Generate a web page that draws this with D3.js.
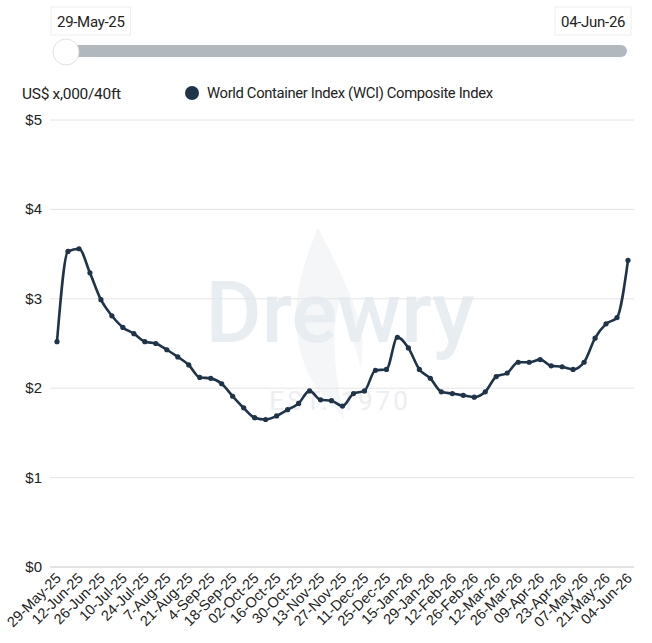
<!DOCTYPE html>
<html>
<head>
<meta charset="utf-8">
<script src="https://cdn.jsdelivr.net/npm/d3@7"></script>
<style>
  body { margin: 0; background: #fff; font-family: Roboto, "Liberation Sans", sans-serif; }
</style>
</head>
<body>
<script>
// weekly WCI composite, US$ x,000 per 40ft
const dates = ["29-May-25","05-Jun-25","12-Jun-25","19-Jun-25","26-Jun-25","03-Jul-25","10-Jul-25","17-Jul-25","24-Jul-25","31-Jul-25",
  "7-Aug-25","14-Aug-25","21-Aug-25","28-Aug-25","4-Sep-25","11-Sep-25","18-Sep-25","25-Sep-25","02-Oct-25","09-Oct-25",
  "16-Oct-25","23-Oct-25","30-Oct-25","06-Nov-25","13-Nov-25","20-Nov-25","27-Nov-25","04-Dec-25","11-Dec-25","18-Dec-25",
  "25-Dec-25","08-Jan-26","15-Jan-26","22-Jan-26","29-Jan-26","05-Feb-26","12-Feb-26","19-Feb-26","26-Feb-26","05-Mar-26",
  "12-Mar-26","19-Mar-26","26-Mar-26","02-Apr-26","09-Apr-26","16-Apr-26","23-Apr-26","30-Apr-26","07-May-26","14-May-26",
  "21-May-26","28-May-26","04-Jun-26"];
const values = [2.52,3.53,3.56,3.29,2.99,2.81,2.68,2.61,2.52,2.50,
  2.43,2.35,2.26,2.12,2.11,2.05,1.91,1.78,1.67,1.65,
  1.69,1.76,1.83,1.97,1.87,1.86,1.80,1.94,1.97,2.20,
  2.21,2.57,2.45,2.21,2.11,1.96,1.94,1.92,1.90,1.96,
  2.13,2.17,2.29,2.29,2.32,2.25,2.24,2.21,2.29,2.56,
  2.72,2.79,3.43];
const yTicks = [0,1,2,3,4,5];
const seriesName = "World Container Index (WCI) Composite Index";
const lineColor = "#1f3349";

const width = 652, height = 643;
const margin = {top: 120, right: 18, bottom: 76, left: 50};

const svg = d3.select("body").append("svg")
    .attr("width", width)
    .attr("height", height);

// range slider on top
const slider = svg.append("g");
slider.append("rect")
    .attr("x", 56).attr("y", 45).attr("width", 571).attr("height", 12)
    .attr("rx", 6).style("fill", "#b1b8be");
slider.append("circle")
    .attr("cx", 66).attr("cy", 52).attr("r", 13)
    .style("fill", "#fff").style("stroke", "#e2e2e2").style("stroke-width", 1);

function dateBox(x, txt) {
  const g = slider.append("g").attr("transform", "translate(" + x + ",8)");
  const t = g.append("text").attr("x", 0).attr("y", 19)
      .style("font-size", "15px").style("fill", "#222").style("letter-spacing", "-0.3px").text(txt);
  const w = t.node().getComputedTextLength();
  g.insert("rect", "text").attr("x", -6).attr("y", -1).attr("width", w + 12).attr("height", 28)
      .style("fill", "#fff").style("stroke", "#eeeeee");
}
dateBox(57, dates[0]);
dateBox(561, dates[dates.length - 1]);

// unit label + legend
svg.append("text").attr("x", 22).attr("y", 99)
    .style("font-size", "15.5px").style("fill", "#222").style("letter-spacing", "-0.3px")
    .text("US$ x,000/40ft");
svg.append("circle").attr("cx", 192).attr("cy", 93).attr("r", 7).style("fill", lineColor);
svg.append("text").attr("x", 207).attr("y", 98)
    .style("font-size", "14.8px").style("fill", "#222").style("letter-spacing", "-0.35px")
    .text(seriesName);

const x = d3.scalePoint()
    .domain(dates)
    .range([57, 628]);

const y = d3.scaleLinear()
    .domain([0, 5])
    .range([height - margin.bottom, margin.top]);

// watermark
const wm = svg.append("g").style("pointer-events", "none");
wm.append("path")
    .attr("d", "M318,228 C300,270 290,310 300,350 C310,390 330,400 345,420 C335,380 330,330 340,300 C345,330 360,350 360,370 C370,330 350,290 318,228 Z")
    .style("fill", "#f5f6f8");
wm.append("text").attr("x", 340).attr("y", 342).attr("text-anchor", "middle")
    .style("font-size", "86px").style("font-weight", "500").style("fill", "#e8edf2")
    .text("Drewry");
wm.append("text").attr("x", 340).attr("y", 410).attr("text-anchor", "middle")
    .style("font-size", "26px").style("letter-spacing", "3px").style("fill", "#eceef1")
    .text("EST. 1970");

// grid + y labels
const yAxis = svg.append("g").attr("class", "y-axis");
yAxis.selectAll("line")
    .data(yTicks).enter().append("line")
    .attr("x1", margin.left).attr("x2", 634)
    .attr("y1", d => y(d)).attr("y2", d => y(d))
    .style("stroke", d => d === 0 ? "#c8c8c8" : "#e4e4e4")
    .style("stroke-width", 1);
yAxis.selectAll("text")
    .data(yTicks).enter().append("text")
    .attr("x", 42).attr("y", d => y(d) + 5)
    .attr("text-anchor", "end")
    .style("font-family", "'Liberation Sans', Arial, sans-serif")
    .style("font-size", "15px").style("fill", "#222")
    .text(d => "$" + d);

// x labels, every second week
const xLabels = dates.filter((d, i) => i % 2 === 0);
svg.append("g").selectAll("text")
    .data(xLabels).enter().append("text")
    .attr("transform", d => "translate(" + (x(d) + 5) + "," + (height - margin.bottom + 12) + ") rotate(-45)")
    .attr("text-anchor", "end")
    .style("font-family", "'Liberation Sans', Arial, sans-serif")
    .style("font-size", "14.5px").style("fill", "#222")
    .text(d => d);

// series
const line = d3.line()
    .x((d, i) => x(dates[i]))
    .y(d => y(d))
    .curve(d3.curveMonotoneX);

svg.append("path")
    .datum(values)
    .attr("d", line)
    .style("fill", "none")
    .style("stroke", lineColor)
    .style("stroke-width", 2.6)
    .style("stroke-linejoin", "round");

svg.append("g").selectAll("circle")
    .data(values).enter().append("circle")
    .attr("cx", (d, i) => x(dates[i]))
    .attr("cy", d => y(d))
    .attr("r", 2.6)
    .style("fill", lineColor);
</script>
</body>
</html>
